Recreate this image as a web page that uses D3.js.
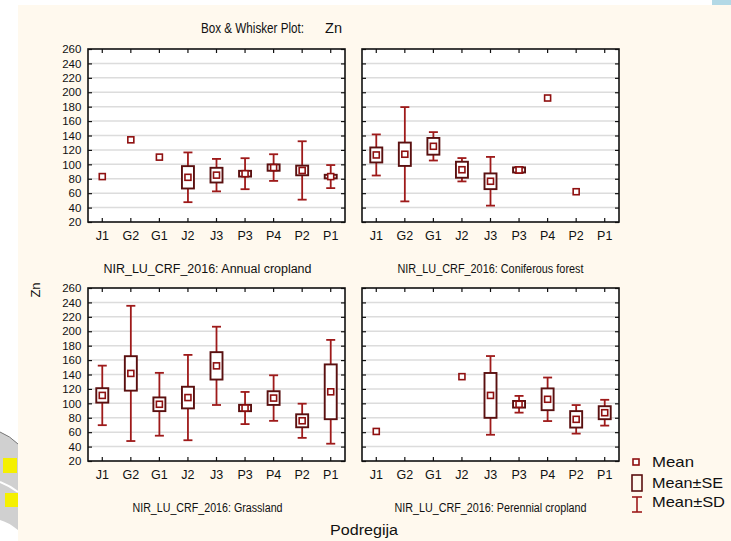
<!DOCTYPE html>
<html>
<head>
<meta charset="utf-8">
<script src="https://cdnjs.cloudflare.com/ajax/libs/d3/7.8.5/d3.min.js"></script>
<style>
  html, body { margin: 0; padding: 0; background: #ffffff; }
  svg { display: block; }
  text { font-family: "Liberation Sans", Arial, sans-serif; fill: #111; }
</style>
</head>
<body>
<svg id="chart" width="731" height="541"></svg>
<script>
// Sub-regions on the x axis of every panel
const categories = ["J1", "G2", "G1", "J2", "J3", "P3", "P4", "P2", "P1"];
const yTicks = [20, 40, 60, 80, 100, 120, 140, 160, 180, 200, 220, 240, 260];

// Zn: mean, standard error and standard deviation per sub-region (null = no data / single sample)
const annualMean = [83, 134, 110, 82, 85, 87, 95.5, 91.5, 83];
const annualSE   = [null, null, null, 15.5, 10.2, 4, 4.4, 6.7, 2.5];
const annualSD   = [null, null, null, 34.5, 22.5, 21.5, 18.5, 40.5, 16];

const coniferMean = [113, 114, 125, 92.5, 76.5, 92.2, 192, 62, null];
const coniferSE   = [10.4, 16.2, 11.6, 11.1, 10.9, 3.5, null, null, null];
const coniferSD   = [28.5, 65.4, 19.7, 16.2, 33.8, 4.2, null, null, null];

const grassMean = [111, 141.5, 98.7, 108, 152, 93.5, 107.3, 75.8, 116];
const grassSE   = [10, 23.9, 9.5, 15, 19, 4.4, 9.5, 9, 38];
const grassSD   = [41.3, 93.8, 43.6, 59.2, 54.3, 22.3, 31.6, 23.7, 72];

const perennialMean = [61, null, null, 137, 111, 98.7, 105.6, 77.8, 87];
const perennialSE   = [null, null, null, null, 31.1, 4.6, 15.1, 11.4, 9];
const perennialSD   = [null, null, null, null, 54.6, 11.6, 30.2, 19.8, 17.9];

const panels = [
  { title: "NIR_LU_CRF_2016: Annual cropland", tw: 208, mean: annualMean, se: annualSE, sd: annualSD, x: 88, y: 49, labels: true },
  { title: "NIR_LU_CRF_2016: Coniferous forest", tw: 186, mean: coniferMean, se: coniferSE, sd: coniferSD, x: 362, y: 49, labels: false },
  { title: "NIR_LU_CRF_2016: Grassland", tw: 150, mean: grassMean, se: grassSE, sd: grassSD, x: 88, y: 288, labels: true },
  { title: "NIR_LU_CRF_2016: Perennial cropland", tw: 192, mean: perennialMean, se: perennialSE, sd: perennialSD, x: 362, y: 288, labels: false }
];

const PW = 257, PH = 173;
const BOX_COLOR = "#5a1010";
const WHISKER_COLOR = "#9e1a1a";
const MEAN_COLOR = "#8f1010";

const svg = d3.select("#chart");

// page background with the slide decoration at the edges
svg.append("rect").attr("x", 18).attr("y", 5).attr("width", 713).attr("height", 536).attr("fill", "#fff9ee");
svg.append("rect").attr("x", 712).attr("y", 0).attr("width", 19).attr("height", 5).attr("fill", "#b3d9e6");
const deco = svg.append("g");
deco.append("path").attr("d", "M0,432 Q10,436 18,444 L18,530 Q8,522 0,520 Z").attr("fill", "#d0d0d0");
deco.append("path").attr("d", "M0,432 Q10,436 18,444").attr("fill", "none").attr("stroke", "#777").attr("stroke-width", 1);
deco.append("path").attr("d", "M0,482 Q10,486 18,492").attr("fill", "none").attr("stroke", "#fff").attr("stroke-width", 2);
deco.append("rect").attr("x", 3).attr("y", 458).attr("width", 14).attr("height", 15).attr("fill", "#f5f000");
deco.append("rect").attr("x", 5).attr("y", 493).attr("width", 13).attr("height", 14).attr("fill", "#f5f000");

// title
svg.append("text").attr("x", 201).attr("y", 33).attr("font-size", 14)
  .attr("textLength", 103).attr("lengthAdjust", "spacingAndGlyphs").text("Box & Whisker Plot:");
svg.append("text").attr("x", 325).attr("y", 33).attr("font-size", 14)
  .attr("textLength", 17).attr("lengthAdjust", "spacingAndGlyphs").text("Zn");

// axis titles
svg.append("text").attr("transform", "translate(40,290) rotate(-90)")
  .attr("text-anchor", "middle").attr("font-size", 13).text("Zn");
svg.append("text").attr("x", 364).attr("y", 535)
  .attr("text-anchor", "middle").attr("font-size", 14)
  .attr("textLength", 68).attr("lengthAdjust", "spacingAndGlyphs").text("Podregija");

panels.forEach(p => {
  const g = svg.append("g").attr("transform", `translate(${p.x},${p.y})`);
  const x = d3.scaleBand().domain(categories).range([0, PW]).padding(0);
  const y = d3.scaleLinear().domain([20, 260]).range([PH, 0]);
  const cx = c => x(c) + x.bandwidth() / 2;

  g.append("rect").attr("width", PW).attr("height", PH).attr("fill", "#ffffff");

  // horizontal grid
  g.selectAll(".grid").data(yTicks.slice(1, -1)).join("line")
    .attr("x1", 0).attr("x2", PW).attr("y1", d => y(d)).attr("y2", d => y(d))
    .attr("stroke", "#dcdcdc").attr("stroke-width", 1.5);

  // axes with inward ticks
  const left = g.append("g").call(d3.axisLeft(y).tickValues(yTicks).tickSize(-4).tickPadding(9));
  const right = g.append("g").attr("transform", `translate(${PW},0)`).call(d3.axisRight(y).tickValues(yTicks).tickSize(-4));
  const top = g.append("g").call(d3.axisTop(x).tickSize(-4));
  const bottom = g.append("g").attr("transform", `translate(0,${PH})`).call(d3.axisBottom(x).tickSize(-4).tickPadding(9));
  [left, right, top, bottom].forEach(a => {
    a.select(".domain").remove();
    a.selectAll(".tick line").attr("stroke", "#111").attr("stroke-width", 1.2);
    a.selectAll("text").attr("font-family", "Liberation Sans, Arial, sans-serif").attr("fill", "#111");
  });
  left.selectAll("text").attr("font-size", 11.5).attr("dx", "0.2em");
  if (!p.labels) left.selectAll("text").remove();
  right.selectAll("text").remove();
  top.selectAll("text").remove();
  bottom.selectAll("text").attr("font-size", 12.5);

  g.append("rect").attr("width", PW).attr("height", PH)
    .attr("fill", "none").attr("stroke", "#111").attr("stroke-width", 1.6);

  // subtitle, centred under the panel together with its tick-label column
  const labelCol = p.labels ? 18 : 0;
  svg.append("text").attr("x", p.x - labelCol + (PW + labelCol) / 2).attr("y", p.y + PH + 51)
    .attr("text-anchor", "middle").attr("font-size", 12)
    .attr("textLength", p.tw).attr("lengthAdjust", "spacingAndGlyphs").text(p.title);

  const rows = categories.map((c, i) => ({ c, m: p.mean[i], se: p.se[i], sd: p.sd[i] }));

  // whiskers: mean ± SD
  const wk = g.selectAll(".wk").data(rows.filter(r => r.m != null && r.sd != null)).join("g");
  wk.append("line").attr("x1", r => cx(r.c)).attr("x2", r => cx(r.c))
    .attr("y1", r => y(r.m + r.sd)).attr("y2", r => y(r.m - r.sd))
    .attr("stroke", WHISKER_COLOR).attr("stroke-width", 1.8);
  [1, -1].forEach(s => {
    wk.append("line").attr("x1", r => cx(r.c) - 4.5).attr("x2", r => cx(r.c) + 4.5)
      .attr("y1", r => y(r.m + s * r.sd)).attr("y2", r => y(r.m + s * r.sd))
      .attr("stroke", WHISKER_COLOR).attr("stroke-width", 1.8);
  });

  // boxes: mean ± SE
  g.selectAll(".bx").data(rows.filter(r => r.m != null && r.se != null)).join("rect")
    .attr("x", r => cx(r.c) - 6).attr("width", 12)
    .attr("y", r => y(r.m + r.se)).attr("height", r => y(r.m - r.se) - y(r.m + r.se))
    .attr("fill", "#ffffff").attr("stroke", BOX_COLOR).attr("stroke-width", 1.9);

  // means
  g.selectAll(".mn").data(rows.filter(r => r.m != null)).join("rect")
    .attr("x", r => cx(r.c) - 3).attr("y", r => y(r.m) - 3)
    .attr("width", 6).attr("height", 6)
    .attr("fill", "#ffffff").attr("stroke", MEAN_COLOR).attr("stroke-width", 1.6);
});

// legend
const lg = svg.append("g");
lg.append("rect").attr("x", 633).attr("y", 459).attr("width", 6).attr("height", 6)
  .attr("fill", "#ffffff").attr("stroke", MEAN_COLOR).attr("stroke-width", 1.6);
lg.append("rect").attr("x", 632).attr("y", 475).attr("width", 10).attr("height", 16)
  .attr("fill", "none").attr("stroke", BOX_COLOR).attr("stroke-width", 1.6);
lg.append("line").attr("x1", 637).attr("x2", 637).attr("y1", 497).attr("y2", 512).attr("stroke", WHISKER_COLOR).attr("stroke-width", 1.6);
lg.append("line").attr("x1", 632).attr("x2", 642).attr("y1", 497).attr("y2", 497).attr("stroke", WHISKER_COLOR).attr("stroke-width", 1.6);
lg.append("line").attr("x1", 632).attr("x2", 642).attr("y1", 512).attr("y2", 512).attr("stroke", WHISKER_COLOR).attr("stroke-width", 1.6);
[["Mean", 467, 42], ["Mean±SE", 488, 71], ["Mean±SD", 507, 73]].forEach(([t, yy, w]) => {
  lg.append("text").attr("x", 652).attr("y", yy).attr("font-size", 14.5)
    .attr("textLength", w).attr("lengthAdjust", "spacingAndGlyphs").text(t);
});
</script>
</body>
</html>
